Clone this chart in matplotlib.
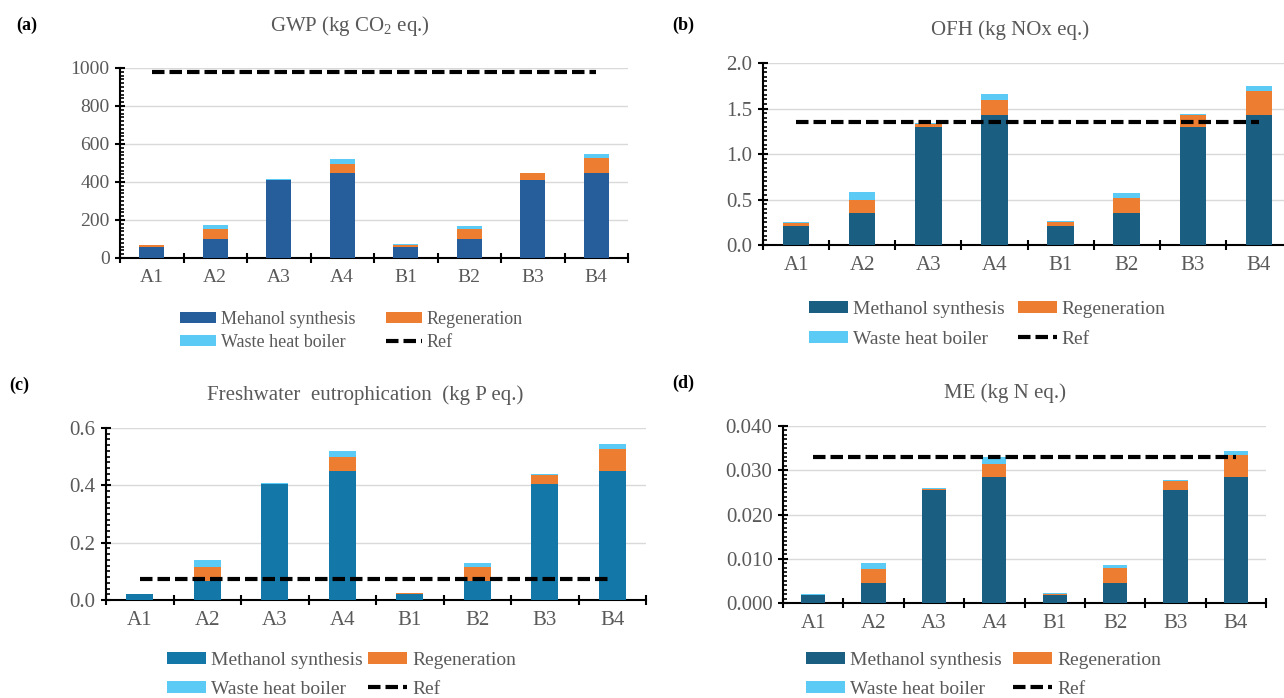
import numpy as np
import matplotlib.pyplot as plt
from matplotlib.ticker import MultipleLocator, FixedLocator, FormatStrFormatter

plt.rcParams['font.family'] = ['Liberation Serif', 'DejaVu Serif']
plt.rcParams['mathtext.fontset'] = 'custom'
plt.rcParams['mathtext.rm'] = 'Liberation Serif'
plt.rcParams['mathtext.default'] = 'rm'

cases = ['A1', 'A2', 'A3', 'A4', 'B1', 'B2', 'B3', 'B4']

# (a) GWP, kg CO2 eq.
gwp_synth = [60, 100, 408, 447, 60, 100, 408, 447]
gwp_regen = [8, 50, 5, 48, 10, 55, 37, 80]
gwp_boiler = [3, 25, 2, 25, 3, 12, 3, 18]
gwp_ref = 980

# (b) OFH, kg NOx eq.
ofh_synth = [0.21, 0.35, 1.30, 1.43, 0.21, 0.35, 1.30, 1.43]
ofh_regen = [0.03, 0.15, 0.03, 0.16, 0.04, 0.17, 0.13, 0.26]
ofh_boiler = [0.01, 0.08, 0.01, 0.07, 0.01, 0.05, 0.01, 0.06]
ofh_ref = 1.35

# (c) Freshwater eutrophication, kg P eq.
fe_synth = [0.020, 0.065, 0.403, 0.450, 0.020, 0.065, 0.403, 0.450]
fe_regen = [0.001, 0.050, 0.003, 0.048, 0.003, 0.050, 0.032, 0.077]
fe_boiler = [0.001, 0.023, 0.002, 0.022, 0.002, 0.015, 0.003, 0.016]
fe_ref = 0.072

# (d) ME, kg N eq.
me_synth = [0.0017, 0.0045, 0.0256, 0.0284, 0.0017, 0.0045, 0.0256, 0.0284]
me_regen = [0.0002, 0.0031, 0.0002, 0.0030, 0.0004, 0.0033, 0.0020, 0.0050]
me_boiler = [0.0001, 0.0015, 0.0001, 0.0015, 0.0001, 0.0009, 0.0002, 0.0010]
me_ref = 0.033

REGEN = '#ED7D31'
BOILER = '#5BCBF5'
GREY = '#595959'

W, H = 1284, 698
fig = plt.figure(figsize=(W / 100, H / 100), dpi=100)


def px_axes(x0, x1, ytop, ybot):
    return fig.add_axes([x0 / W, 1 - ybot / H, (x1 - x0) / W, (ybot - ytop) / H])


def panel(box, synth, regen, boiler, ref, ymax, major, minor, fmt, color,
          title, title_xy, tag, tag_xy, synth_label, leg_xy,
          col_gap, row_gap, tick_fs, leg_fs, half_ticks):
    ax = px_axes(*box)
    x = np.arange(len(cases))
    s = np.array(synth)
    r = np.array(regen)
    b = np.array(boiler)
    h1 = ax.bar(x, s, 0.4, color=color, zorder=3)
    h2 = ax.bar(x, r, 0.4, bottom=s, color=REGEN, zorder=3)
    h3 = ax.bar(x, b, 0.4, bottom=s + r, color=BOILER, zorder=3)
    h4, = ax.plot([x[0], x[-1]], [ref, ref], color='black', lw=3,
                  dashes=(3, 1.2), zorder=4)
    ax.set_xlim(-0.5, len(cases) - 0.5)
    ax.set_ylim(0, ymax)
    ax.yaxis.set_major_locator(MultipleLocator(major))
    ax.yaxis.set_minor_locator(MultipleLocator(minor))
    ax.yaxis.set_major_formatter(FormatStrFormatter(fmt))
    ax.set_xticks(x)
    ax.set_xticklabels(cases)
    step = 0.5 if half_ticks else 1.0
    ax.xaxis.set_minor_locator(FixedLocator(np.arange(-0.5, len(cases), step)))
    ax.tick_params(axis='x', which='major', length=0, pad=8, labelsize=tick_fs, labelcolor=GREY)
    ax.tick_params(axis='x', which='minor', length=7, width=1.5, direction='inout')
    ax.tick_params(axis='y', which='major', length=7, width=1.5, direction='inout',
                   labelsize=tick_fs, labelcolor=GREY, pad=4)
    ax.tick_params(axis='y', which='minor', length=3, width=1.2, direction='in')
    ax.grid(axis='y', color='#D9D9D9', lw=1, zorder=0)
    for sp in ['top', 'right']:
        ax.spines[sp].set_visible(False)
    for sp in ['left', 'bottom']:
        ax.spines[sp].set_linewidth(1.5)
    fig.text(title_xy[0] / W, 1 - title_xy[1] / H, title, ha='center', va='center',
             fontsize=15, color=GREY)
    fig.text(tag_xy[0] / W, 1 - tag_xy[1] / H, tag, ha='left', va='center',
             fontsize=13, fontweight='bold')
    # column-wise fill: synth / boiler in column 1, regeneration / ref in column 2
    fig.legend([h1, h3, h2, h4],
               [synth_label, 'Waste heat boiler', 'Regeneration', 'Ref'],
               ncol=2, loc='upper left',
               bbox_to_anchor=(leg_xy[0] / W, 1 - leg_xy[1] / H),
               frameon=False, fontsize=leg_fs, labelcolor=GREY,
               handlelength=2.0, handleheight=0.55, handletextpad=0.25,
               columnspacing=col_gap, labelspacing=row_gap,
               borderpad=0, borderaxespad=0)
    return ax


panel((120, 628, 68, 258), gwp_synth, gwp_regen, gwp_boiler, gwp_ref,
      1000, 200, 20, '%d', '#255E9A',
      'GWP (kg CO$_2$ eq.)', (350, 26), '(a)', (16, 25),
      'Mehanol synthesis', (180, 311), 1.7, 0.35, 14, 13, False)
panel((763, 1292, 63, 245), ofh_synth, ofh_regen, ofh_boiler, ofh_ref,
      2.0, 0.5, 0.05, '%.1f', '#1A5F82',
      'OFH (kg NOx eq.)', (1010, 30), '(b)', (672, 25),
      'Methanol synthesis', (809, 301), 0.7, 0.65, 15, 14, True)
panel((106, 646, 428, 600), fe_synth, fe_regen, fe_boiler, fe_ref,
      0.6, 0.2, 0.02, '%.1f', '#1378A8',
      'Freshwater  eutrophication  (kg P eq.)', (365, 395), '(c)', (9, 385),
      'Methanol synthesis', (167, 652), 0.3, 0.6, 15, 14, True)
panel((783, 1266, 426, 603), me_synth, me_regen, me_boiler, me_ref,
      0.040, 0.010, 0.001, '%.3f', '#1A5F82',
      'ME (kg N eq.)', (1005, 393), '(d)', (672, 383),
      'Methanol synthesis', (806, 652), 0.6, 0.6, 15, 14, True)

fig.savefig('out.png', dpi=100, facecolor='white')
